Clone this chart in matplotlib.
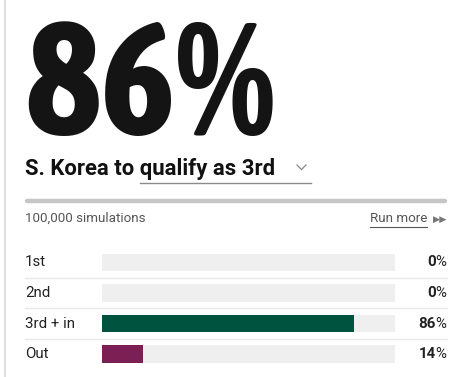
import matplotlib
matplotlib.use("Agg")
import matplotlib.pyplot as plt
from matplotlib import font_manager
from matplotlib.font_manager import FontProperties
from matplotlib.textpath import TextPath

# ---- data ----
headline_value = "86%"
team = "S. Korea"
outcome_label = "qualify as 3rd"
simulations_text = "100,000 simulations"
run_more_text = "Run more"
categories = ["1st", "2nd", "3rd + in", "Out"]
values = [0, 0, 86, 14]
bar_colors = ["#00533f", "#00533f", "#00533f", "#7b1f55"]

fl = font_manager.fontManager.ttflist
names = {f.name for f in fl}


def weights(fam):
    out = set()
    for f in fl:
        if f.name == fam and f.style == "normal":
            try:
                out.add(int(f.weight))
            except Exception:
                out.add({"bold": 700, "normal": 400}.get(f.weight, 400))
    return out


def glyph_box(s, fam, weight, size=100):
    p = TextPath((0, 0), s, size=size, prop=FontProperties(family=fam, weight=weight))
    e = p.get_extents()
    return e.width, e.height, e.x0


big_cands = ["Roboto Condensed", "Fira Sans Extra Condensed", "Barlow Condensed",
             "Fira Sans Condensed", "Archivo Narrow", "IBM Plex Sans Condensed",
             "Encode Sans Condensed", "Sofia Sans Condensed", "Saira Condensed",
             "PT Sans Narrow", "Asap Condensed", "DejaVu Sans"]
target_ratio = 230 / 115
best, best_d = "DejaVu Sans", 1e9
for fam in big_cands:
    if fam not in names or not any(wt >= 700 for wt in weights(fam)):
        continue
    w, h, _ = glyph_box(headline_value, fam, "bold")
    d = abs(w / h - target_ratio)
    if d < best_d:
        best, best_d = fam, d
big_font = best
w, h, bx0 = glyph_box(headline_value, big_font, "bold")
big_px = 115 * 100 / h
big_pt = big_px * 72 / 100

base_font = "Liberation Sans"
for fam in ["Libre Franklin", "Franklin Gothic", "Public Sans", "Roboto", "Liberation Sans"]:
    ws = weights(fam)
    if any(690 <= wt <= 750 for wt in ws) and any(380 <= wt <= 420 for wt in ws):
        base_font = fam
        break
title = team + " to " + outcome_label
tw, th, tx0 = glyph_box(title, base_font, "bold")
title_pt = (248 * 100 / tw) * 72 / 100
title_px = title_pt * 100 / 72

W, H = 462, 377
fig = plt.figure(figsize=(W / 100, H / 100), dpi=100)
fig.patch.set_facecolor("white")
ov = fig.add_axes([0, 0, 1, 1])
ov.set_xlim(0, W)
ov.set_ylim(H, 0)
ov.axis("off")

# left border
ov.plot([4.5, 4.5], [0, H], color="#d9d9d9", lw=1.2)

# big headline
ov.text(28 - bx0 * big_px / 100, 134.5, headline_value, fontsize=big_pt, fontweight="bold",
        family=big_font, color="#141414", ha="left", va="baseline")

# title (single text) + underline under the outcome part
ov.text(25, 175, title, fontsize=title_pt, fontweight="bold", family=base_font,
        color="#111111", ha="left", va="baseline")
qw, _, _ = glyph_box(outcome_label, base_font, "bold", size=title_px)
x_title_end = 25 + tw * title_px / 100 + tx0 * title_px / 100
x_q = x_title_end - qw - 1
ov.plot([x_q, 311], [183, 183], color="#8a8a8a", lw=1.0)
ov.plot([297, 301.5, 306], [165, 169.5, 165], color="#888888", lw=0.9)

# progress bar
ov.plot([27, 445], [201, 201], color="#c6c6c6", lw=3.2, solid_capstyle="round")

# simulations line
ov.text(25, 222, simulations_text, fontsize=9.6, family=base_font, color="#555555",
        ha="left", va="baseline")
rm = ov.text(427, 222, run_more_text, fontsize=9.6, family=base_font, color="#555555",
             ha="right", va="baseline")
fig.canvas.draw()
r = fig.canvas.get_renderer()
inv = ov.transData.inverted()
bb = rm.get_window_extent(r)
x0 = inv.transform((bb.x0, 0))[0]
ov.plot([x0, 427], [226.5, 226.5], color="#555555", lw=0.8)
ov.text(432.5, 219, "▶▶", fontsize=6.8, family="DejaVu Sans", color="#777777",
        ha="left", va="center")

# bars
row0, step = 262.5, 30.5
n = len(categories)
top = row0 - step / 2
bar_ax = fig.add_axes([102 / W, 1 - (top + n * step) / H, (395 - 102) / W, n * step / H])
bar_ax.set_xlim(0, 100)
bar_ax.set_ylim(n - 0.5, -0.5)
bar_ax.axis("off")
ys = list(range(n))
bar_ax.barh(ys, [100] * n, height=0.58, color="#efefef", linewidth=0)
bar_ax.barh(ys, values, height=0.58, color=bar_colors, linewidth=0)

lab_pt = 10.8
lab_px = lab_pt * 100 / 72
pw, _, px0 = glyph_box("%", base_font, "normal", size=lab_px)
for i, (cat, v) in enumerate(zip(categories, values)):
    y = row0 + i * step
    ov.text(25, y, cat, fontsize=lab_pt, family=base_font, color="#222222",
            ha="left", va="center")
    ov.text(446, y, "%", fontsize=lab_pt, family=base_font, color="#222222",
            ha="right", va="center")
    xp = 446 - pw - 0.5
    ov.text(xp, y, f"{v}", fontsize=lab_pt, fontweight="bold", family=base_font,
            color="#222222", ha="right", va="center")
    if i < n - 1:
        ov.plot([25, 447], [y + step / 2, y + step / 2], color="#e8e8e8", lw=1)

fig.savefig("out.png", dpi=100, facecolor="white")
